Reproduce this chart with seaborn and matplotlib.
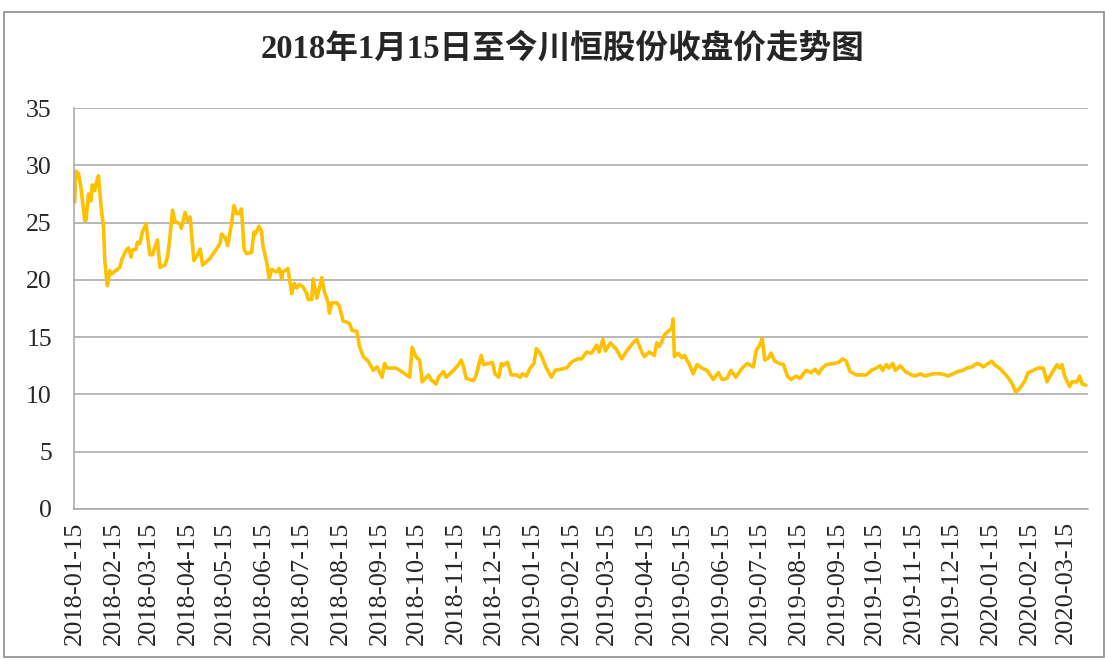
import pandas as pd
import matplotlib
matplotlib.use("Agg")
import matplotlib.pyplot as plt
import matplotlib.dates as mdates
from matplotlib.patches import Rectangle
import seaborn as sb

# closing price readings, 2018-01-15 .. 2020-03-31
dates = [
    "2018-01-15", "2018-01-16", "2018-01-18", "2018-01-20", "2018-01-23", "2018-01-24",
    "2018-01-26", "2018-01-28", "2018-01-29", "2018-01-31", "2018-02-01", "2018-02-03",
    "2018-02-05", "2018-02-07", "2018-02-08", "2018-02-10", "2018-02-12", "2018-02-13",
    "2018-02-20", "2018-02-22", "2018-02-25", "2018-02-27", "2018-03-01", "2018-03-02",
    "2018-03-05", "2018-03-06", "2018-03-08", "2018-03-10", "2018-03-13", "2018-03-14",
    "2018-03-16", "2018-03-18", "2018-03-22", "2018-03-23", "2018-03-24", "2018-03-28",
    "2018-03-30", "2018-04-01", "2018-04-03", "2018-04-05", "2018-04-09", "2018-04-10",
    "2018-04-13", "2018-04-15", "2018-04-17", "2018-04-20", "2018-04-22", "2018-04-25",
    "2018-04-27", "2018-05-03", "2018-05-08", "2018-05-11", "2018-05-12", "2018-05-15",
    "2018-05-17", "2018-05-20", "2018-05-22", "2018-05-24", "2018-05-26", "2018-05-28",
    "2018-05-30", "2018-06-01", "2018-06-05", "2018-06-07", "2018-06-08", "2018-06-11",
    "2018-06-13", "2018-06-14", "2018-06-17", "2018-06-19", "2018-06-21", "2018-06-25",
    "2018-06-27", "2018-06-29", "2018-06-30", "2018-07-03", "2018-07-04", "2018-07-07",
    "2018-07-09", "2018-07-11", "2018-07-13", "2018-07-16", "2018-07-19", "2018-07-20",
    "2018-07-23", "2018-07-24", "2018-07-27", "2018-07-29", "2018-07-31", "2018-08-02",
    "2018-08-05", "2018-08-06", "2018-08-08", "2018-08-12", "2018-08-14", "2018-08-17",
    "2018-08-20", "2018-08-22", "2018-08-24", "2018-08-28", "2018-08-30", "2018-09-02",
    "2018-09-06", "2018-09-10", "2018-09-13", "2018-09-17", "2018-09-19", "2018-09-21",
    "2018-09-28", "2018-10-04", "2018-10-09", "2018-10-11", "2018-10-14", "2018-10-17",
    "2018-10-19", "2018-10-24", "2018-10-26", "2018-10-30", "2018-11-01", "2018-11-05",
    "2018-11-07", "2018-11-13", "2018-11-17", "2018-11-19", "2018-11-21", "2018-11-23",
    "2018-11-29", "2018-12-01", "2018-12-05", "2018-12-07", "2018-12-11", "2018-12-14",
    "2018-12-16", "2018-12-19", "2018-12-21", "2018-12-22", "2018-12-26", "2018-12-29",
    "2019-01-02", "2019-01-05", "2019-01-07", "2019-01-10", "2019-01-13", "2019-01-16",
    "2019-01-18", "2019-01-21", "2019-01-23", "2019-01-26", "2019-01-30", "2019-02-02",
    "2019-02-11", "2019-02-14", "2019-02-16", "2019-02-20", "2019-02-23", "2019-02-27",
    "2019-03-03", "2019-03-07", "2019-03-09", "2019-03-12", "2019-03-14", "2019-03-18",
    "2019-03-23", "2019-03-27", "2019-03-31", "2019-04-05", "2019-04-08", "2019-04-12",
    "2019-04-14", "2019-04-18", "2019-04-22", "2019-04-24", "2019-04-26", "2019-04-28",
    "2019-04-30", "2019-05-06", "2019-05-07", "2019-05-08", "2019-05-11", "2019-05-14",
    "2019-05-16", "2019-05-20", "2019-05-23", "2019-05-26", "2019-05-30", "2019-06-03",
    "2019-06-08", "2019-06-12", "2019-06-15", "2019-06-19", "2019-06-22", "2019-06-26",
    "2019-07-01", "2019-07-05", "2019-07-10", "2019-07-12", "2019-07-15", "2019-07-17",
    "2019-07-19", "2019-07-22", "2019-07-24", "2019-07-27", "2019-07-31", "2019-08-03",
    "2019-08-06", "2019-08-09", "2019-08-13", "2019-08-16", "2019-08-21", "2019-08-25",
    "2019-08-28", "2019-08-31", "2019-09-02", "2019-09-06", "2019-09-12", "2019-09-16",
    "2019-09-19", "2019-09-22", "2019-09-25", "2019-09-30", "2019-10-08", "2019-10-12",
    "2019-10-16", "2019-10-19", "2019-10-21", "2019-10-24", "2019-10-26", "2019-10-29",
    "2019-10-31", "2019-11-04", "2019-11-08", "2019-11-13", "2019-11-16", "2019-11-20",
    "2019-11-24", "2019-11-30", "2019-12-06", "2019-12-10", "2019-12-12", "2019-12-16",
    "2019-12-20", "2019-12-24", "2019-12-27", "2019-12-31", "2020-01-04", "2020-01-07",
    "2020-01-09", "2020-01-13", "2020-01-16", "2020-01-18", "2020-01-22", "2020-01-28",
    "2020-02-01", "2020-02-04", "2020-02-07", "2020-02-11", "2020-02-14", "2020-02-18",
    "2020-02-22", "2020-02-26", "2020-02-29", "2020-03-04", "2020-03-08", "2020-03-10",
    "2020-03-12", "2020-03-14", "2020-03-18", "2020-03-20", "2020-03-24", "2020-03-26",
    "2020-03-28", "2020-03-31",
]
closes = [
    26.8, 29.5, 29.3, 28.1, 25.2, 25.2,
    27.5, 26.9, 28.3, 27.8, 28.4, 29.1,
    26.4, 24.6, 21.7, 19.5, 20.8, 20.5,
    21.1, 21.9, 22.6, 22.8, 22.0, 22.6,
    22.7, 23.3, 23.2, 24.2, 24.9, 23.9,
    22.2, 22.2, 23.5, 22.2, 21.1, 21.3,
    22.0, 23.8, 26.1, 25.1, 24.9, 24.5,
    25.9, 25.2, 25.5, 21.7, 22.0, 22.7,
    21.3, 21.9, 22.7, 23.2, 24.0, 23.7,
    23.0, 24.9, 26.5, 25.8, 25.8, 26.2,
    22.7, 22.3, 22.4, 24.2, 24.0, 24.7,
    24.2, 23.0, 21.6, 20.1, 20.9, 20.7,
    21.0, 20.1, 20.7, 20.9, 21.0, 18.8,
    19.7, 19.3, 19.6, 19.4, 18.8, 18.3,
    18.3, 20.1, 18.4, 19.3, 20.2, 19.0,
    18.0, 17.1, 18.0, 18.0, 17.7, 16.4,
    16.3, 16.2, 15.6, 15.5, 14.2, 13.3,
    12.9, 12.1, 12.4, 11.5, 12.7, 12.3,
    12.3, 11.9, 11.5, 14.1, 13.3, 13.0,
    11.1, 11.7, 11.3, 10.9, 11.5, 12.0,
    11.5, 12.1, 12.6, 13.0, 12.4, 11.4,
    11.2, 11.7, 13.4, 12.6, 12.7, 12.8,
    11.8, 11.5, 12.7, 12.5, 12.8, 11.7,
    11.7, 11.5, 11.8, 11.6, 12.3, 12.7,
    14.0, 13.6, 13.1, 12.3, 11.5, 12.1,
    12.3, 12.7, 12.9, 13.1, 13.1, 13.7,
    13.6, 14.3, 13.7, 14.8, 13.8, 14.5,
    13.9, 13.1, 13.8, 14.5, 14.8, 13.7,
    13.3, 13.7, 13.4, 14.5, 14.2, 14.6,
    15.2, 15.8, 16.6, 13.3, 13.6, 13.2,
    13.4, 12.6, 11.8, 12.6, 12.3, 12.1,
    11.3, 11.9, 11.3, 11.4, 12.1, 11.5,
    12.3, 12.7, 12.4, 13.8, 14.3, 14.9,
    13.0, 13.2, 13.6, 12.9, 12.7, 12.6,
    11.6, 11.3, 11.6, 11.4, 12.1, 11.9,
    12.2, 11.8, 12.2, 12.6, 12.7, 12.8,
    13.1, 12.9, 12.0, 11.7, 11.7, 12.1,
    12.3, 12.5, 12.1, 12.6, 12.3, 12.7,
    12.1, 12.5, 12.0, 11.7, 11.6, 11.8,
    11.6, 11.8, 11.8, 11.7, 11.6, 11.8,
    12.0, 12.1, 12.3, 12.4, 12.7, 12.6,
    12.4, 12.7, 12.9, 12.6, 12.3, 11.6,
    11.0, 10.2, 10.5, 11.1, 11.9, 12.1,
    12.3, 12.3, 11.1, 11.9, 12.6, 12.3,
    12.6, 11.6, 10.7, 11.1, 11.1, 11.6,
    10.9, 10.8,
]
title = "2018年1月15日至今川恒股份收盘价走势图"
yticks = [0, 5, 10, 15, 20, 25, 30, 35]

df = pd.DataFrame({"date": pd.to_datetime(dates), "close": closes})

sb.set_style("white")
plt.rcParams["font.family"] = ["Liberation Serif", "Noto Sans CJK SC", "DejaVu Sans"]

fig = plt.figure(figsize=(11.05, 6.6), dpi=100)
ax = fig.add_axes([0.067, 0.229, 0.918, 0.607])

sb.lineplot(data=df, x="date", y="close", color="#FFC000", linewidth=2.6, ax=ax)
for ln in ax.lines:
    ln.set_clip_on(False)

ax.set_ylim(0, 35)
ax.set_yticks(yticks)
ax.set_xlim(pd.Timestamp("2018-01-14 12:00"), pd.Timestamp("2020-04-02"))
ax.xaxis.set_major_locator(mdates.MonthLocator(bymonthday=15))
ax.xaxis.set_major_formatter(mdates.DateFormatter("%Y-%m-%d"))
ax.grid(axis="y", color="#A6A6A6", linewidth=1.1)
ax.set_axisbelow(True)
ax.set_xlabel("")
ax.set_ylabel("")

for side in ["top", "right"]:
    ax.spines[side].set_visible(False)
for side in ["left", "bottom"]:
    ax.spines[side].set_color("#A6A6A6")
    ax.spines[side].set_linewidth(1.1)

ax.tick_params(axis="y", direction="out", length=6, width=1.1, color="#A6A6A6",
               pad=10, labelsize=18.5)
ax.tick_params(axis="x", direction="out", length=5, width=1.1, color="#A6A6A6",
               pad=4, labelsize=19, labelrotation=90)

fig.text(0.509, 0.926, title, ha="center", va="center", fontsize=23.5, fontweight="bold")

fig.patches.append(Rectangle((0.004, 0.004), 0.995, 0.978, transform=fig.transFigure,
                             fill=False, edgecolor="#8C8C8C", linewidth=1.2))

fig.savefig("out.png", dpi=100)
